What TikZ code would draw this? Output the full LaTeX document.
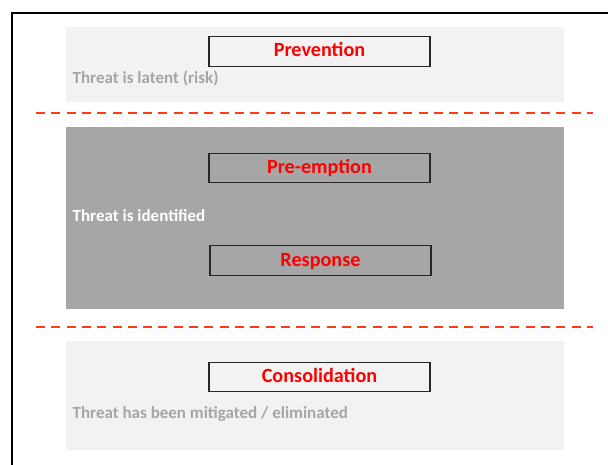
\documentclass[tikz,border=0pt]{standalone}
\usepackage{fontspec}
\setmainfont{Carlito}
\usetikzlibrary{positioning}

\definecolor{bandlight}{HTML}{F2F2F2}
\definecolor{banddark}{HTML}{A6A6A6}
\definecolor{notegray}{HTML}{A6A6A6}
\definecolor{cutline}{HTML}{FF3B0F}

\begin{document}
\begin{tikzpicture}[x=1pt,y=-1pt,
          stage/.style={rectangle,draw=black!85,line width=1.2pt,minimum width=221pt,
                        minimum height=29.5pt,inner sep=0pt,text height=11pt,text depth=0pt,
                        text=red,font=\fontsize{20.2}{23}\selectfont\bfseries},
          note/.style={anchor=base west,inner sep=0pt,font=\fontsize{17}{20}\selectfont\bfseries},
          cut/.style={draw=cutline,line width=2pt,dash pattern=on 9pt off 6.3pt}]

        \useasboundingbox (0,0) rectangle (608,465);

        % outer frame
        \draw[line width=1.6pt] (12,470) -- (12,13) -- (615,13);

        % phase bands
        \fill[bandlight] (66,27) rectangle (564,102);
        \fill[banddark] (66,127) rectangle (564,309);
        \fill[bandlight] (66,341) rectangle (564,450);

        % cut lines
        \coordinate (c1a) at (36,113);
        \coordinate (c1b) at (593,113);
        \coordinate (c2a) at (36,327);
        \coordinate (c2b) at (593,327);
        \draw[cut] (c1a) -- (c1b);
        \draw[cut] (c2a) -- (c2b);

        \node[stage] (prev) at (319.5,51.5) {Prevention};
        \node[stage] (pre) at (319.5,168) {Pre-emption};
        \node[stage] (resp) at (320.5,260.5) {Response};
        \node[stage] (cons) at (319.5,377) {Consolidation};

        \node[note,text=notegray] (latent) at (72.5,83.3) {Threat is latent (risk)};
        \node[note,text=white] (ident) at (72.5,222) {Threat is identified};
        \node[note,text=notegray] (mitig) at (72.5,418.7) {Threat has been mitigated / eliminated};
      \end{tikzpicture}
\end{document}
